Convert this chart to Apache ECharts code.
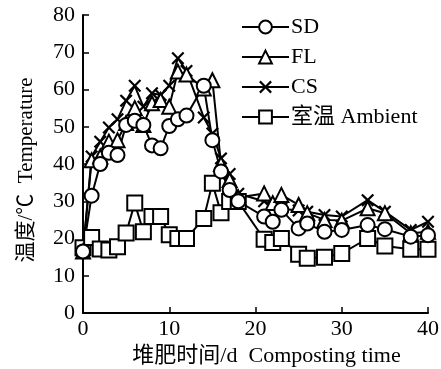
<!DOCTYPE html>
<html><head><meta charset="utf-8">
<script src="https://cdn.jsdelivr.net/npm/echarts@6/dist/echarts.min.js"></script>
<style>html,body{margin:0;padding:0;background:#fff}#c{width:441px;height:369px}</style>
</head><body><div id="c"></div>
<script>
const days = [0,1,2,3,4,5,6,7,8,9,10,11,12,14,15,16,17,18,21,22,23,25,26,28,30,33,35,38,40];
const sd  = [16.5,31.5,40,43,42.4,50.5,51.6,50.5,45,44.2,50.2,52,53,61,46.4,38,33,30,25.9,24.5,27.7,22.7,24,21.8,22.3,23.6,22.5,20.5,20.9];
const fl  = [16.5,41,42,46,46.4,51,55,50.5,56.3,57.2,55.4,64.8,64,60.3,62.5,40,35.7,31,32.1,29.5,31.7,29,26.8,25,24.8,28.1,26.8,21.4,21.8];
const cs  = [16.5,42,46,49.8,52,57,61,55.4,59,58.5,61,68.4,65,52.5,48.2,41.5,37.3,32,30,29,28,27.5,27.2,26.3,25.9,30.3,27.2,22.3,24.5];
const amb = [17.5,20.3,17.2,16.9,17.8,21.5,29.5,21.8,25.9,25.9,21,20,20,25.4,34.8,26.9,29.9,29.9,19.8,18.9,20,15.8,14.7,15,16,20,18,17.1,17.1];
const seriesNames = ['SD','FL','CS','室温 Ambient'];
const xTicks = [0,10,20,30,40];
const yTicks = [0,10,20,30,40,50,60,70,80];

const pair = v => days.map((d,i)=>[d,v[i]]);
const FONT = '"Liberation Serif","Noto Sans CJK SC",serif';
const crossPath = 'path://M0,1.2L1.2,0L5,3.8L8.8,0L10,1.2L6.2,5L10,8.8L8.8,10L5,6.2L1.2,10L0,8.8L3.8,5Z';
function mk(name, data, symbol, size, filled){
  return {
    name, type:'line', data: pair(data), symbol, symbolSize: size,
    showAllSymbol:true, animation:false,
    lineStyle:{color:'#000', width:2},
    itemStyle: filled ? {color:'#000', borderWidth:0} : {color:'#fff', borderColor:'#000', borderWidth:2}
  };
}
const chart = echarts.init(document.getElementById('c'));
chart.setOption({
  animation:false,
  textStyle:{fontFamily:FONT},
  grid:{left:83, right:13, top:15, bottom:56, containLabel:false, outerBoundsMode:'none'},
  legend:{
    orient:'vertical', left:236, top:11, itemWidth:47, itemHeight:16, itemGap:8,
    textStyle:{fontFamily:FONT, fontSize:22, color:'#000', padding:[0,0,0,-3]},
    data: seriesNames
  },
  xAxis:{
    type:'value', min:0, max:40, interval:10,
    name:'堆肥时间/d  Composting time', nameLocation:'middle', nameGap:32,
    nameTextStyle:{fontFamily:FONT, fontSize:22, color:'#000', padding:[0,0,0,22]},
    axisLine:{lineStyle:{color:'#000', width:2}},
    axisTick:{inside:true, length:6, lineStyle:{color:'#000', width:1.5}},
    axisLabel:{fontFamily:FONT, fontSize:22, color:'#000', margin:5},
    splitLine:{show:false}
  },
  yAxis:{
    type:'value', min:0, max:80, interval:10,
    name:'温度/℃  Temperature', nameLocation:'middle', nameGap:46, nameRotate:90,
    nameTextStyle:{fontFamily:FONT, fontSize:21, color:'#000', padding:[0,12,0,0]},
    axisLine:{show:true, lineStyle:{color:'#000', width:2}},
    axisTick:{show:true, inside:true, length:6, lineStyle:{color:'#000', width:1.5}},
    axisLabel:{fontFamily:FONT, fontSize:22, color:'#000', margin:8},
    splitLine:{show:false}
  },
  series:[
    mk(seriesNames[3], amb, 'rect', 15, false),
    mk(seriesNames[2], cs, crossPath, 13, true),
    mk(seriesNames[1], fl, 'triangle', 14, false),
    mk(seriesNames[0], sd, 'circle', 14, false)
  ]
});
</script></body></html>
